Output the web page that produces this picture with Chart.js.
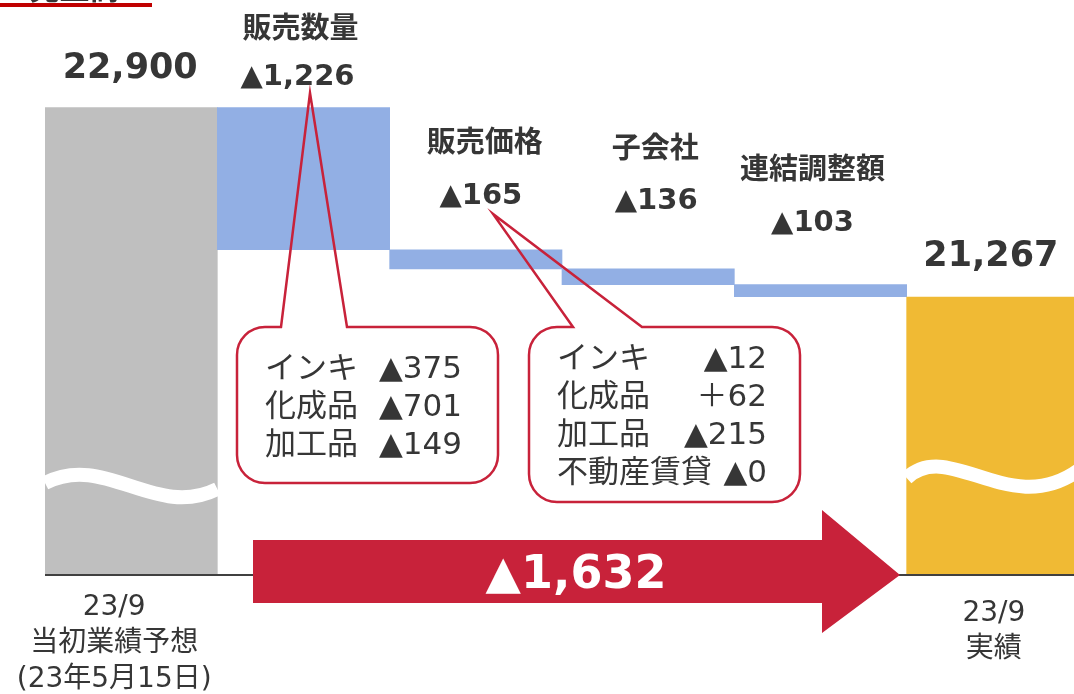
<!DOCTYPE html>
<html>
<head>
<meta charset="utf-8">
<script src="https://cdn.jsdelivr.net/npm/chart.js@4.4.1/dist/chart.umd.min.js"></script>
<style>
  html, body { margin: 0; padding: 0; background: #fff; overflow: hidden; }
  #wrap { width: 1079px; height: 694px; }
</style>
</head>
<body>
<div id="wrap"><canvas id="myChart" width="1079" height="694"></canvas></div>
<script>
// data
const categories = ['23/9 当初業績予想', '販売数量', '販売価格', '子会社', '連結調整額', '23/9 実績'];
const startValue = 22900;
const endValue = 21267;
const deltas = [-1226, -165, -136, -103];
const topLabels = ['22,900', '▲1,226', '▲165', '▲136', '▲103', '21,267'];
const stepNames = ['', '販売数量', '販売価格', '子会社', '連結調整額', ''];
const bottomLabels = [['23/9', '当初業績予想', '(23年5月15日)'], [], [], [], [], ['23/9', '実績']];
const totalChange = '▲1,632';
const volumeBreakdown = [['インキ', '▲375'], ['化成品', '▲701'], ['加工品', '▲149']];
const priceBreakdown = [['インキ', '▲12'], ['化成品', '＋62'], ['加工品', '▲215'], ['不動産賃貸', '▲0']];
const title = '③売上高';
const axisMin = 18871;
const axisMax = 23826;

// floating bars for the waterfall
const barData = [[axisMin, startValue]];
let running = startValue;
deltas.forEach(d => {
  barData.push([running + d, running]);
  running += d;
});
barData.push([axisMin, endValue]);

const colors = ['#BFBFBF', '#92AFE4', '#92AFE4', '#92AFE4', '#92AFE4', '#F0BA34'];
const RED = '#C8223A';
const TEXT = '#363636';
const FONT = '"DejaVu Sans", "Noto Sans CJK JP", sans-serif';

function callout(ctx, box, tip, baseL, baseR) {
  const r = 28;
  const { l, t, rt, b } = box;
  ctx.beginPath();
  ctx.moveTo(baseR, t);
  ctx.lineTo(rt - r, t);
  ctx.arcTo(rt, t, rt, t + r, r);
  ctx.lineTo(rt, b - r);
  ctx.arcTo(rt, b, rt - r, b, r);
  ctx.lineTo(l + r, b);
  ctx.arcTo(l, b, l, b - r, r);
  ctx.lineTo(l, t + r);
  ctx.arcTo(l, t, l + r, t, r);
  ctx.lineTo(baseL, t);
  ctx.lineTo(tip[0], tip[1]);
  ctx.closePath();
  ctx.strokeStyle = RED;
  ctx.lineWidth = 2.5;
  ctx.stroke();
}

const decor = {
  id: 'decor',
  afterDatasetsDraw(chart) {
    const ctx = chart.ctx;
    const area = chart.chartArea;
    const bars = chart.getDatasetMeta(0).data;
    const base = area.bottom;

    // wavy break marks
    ctx.save();
    ctx.strokeStyle = '#fff';
    ctx.lineWidth = 14;
    let g = bars[0], gl = g.x - g.width / 2, gw = g.width;
    ctx.beginPath();
    ctx.moveTo(gl, base - 92);
    ctx.bezierCurveTo(gl + gw * 0.35, base - 123, gl + gw * 0.64, base - 55, gl + gw, base - 86);
    ctx.stroke();
    g = bars[5]; gl = g.x - g.width / 2; gw = g.width;
    ctx.beginPath();
    ctx.moveTo(gl, base - 97);
    ctx.bezierCurveTo(gl + gw * 0.25, base - 137, gl + gw * 0.6, base - 55, gl + gw, base - 105);
    ctx.stroke();
    ctx.restore();

    // baseline
    ctx.save();
    ctx.fillStyle = '#404040';
    ctx.fillRect(area.left, base - 1, area.right - area.left, 2);
    ctx.restore();

    // title (cut off at the top)
    ctx.save();
    ctx.fillStyle = TEXT;
    ctx.font = 'bold 30px ' + FONT;
    ctx.textBaseline = 'alphabetic';
    ctx.fillText(title, 4, -1);
    ctx.fillStyle = '#C00000';
    ctx.fillRect(0, 3, 152, 4);
    ctx.restore();

    // labels above bars
    const valuePos = [[-1, 69, 35], [-6, 77, 29], [5, 196, 29], [8, 201, 29], [-8, 223, 29], [-2, 257, 35]];
    const namePos = [null, [-3, 30], [9, 144], [7, 150], [-8, 171]];
    ctx.save();
    ctx.fillStyle = TEXT;
    ctx.textAlign = 'center';
    ctx.textBaseline = 'middle';
    bars.forEach((bar, i) => {
      const vp = valuePos[i];
      ctx.font = 'bold ' + vp[2] + 'px ' + FONT;
      ctx.fillText(topLabels[i], bar.x + vp[0], vp[1]);
      if (stepNames[i]) {
        const np = namePos[i];
        ctx.font = 'bold 29px ' + FONT;
        ctx.fillText(stepNames[i], bar.x + np[0], np[1]);
      }
    });
    // bottom category labels
    ctx.font = '28px ' + FONT;
    bottomLabels[0].forEach((s, k) => ctx.fillText(s, bars[0].x - 17, 608 + k * 36));
    bottomLabels[5].forEach((s, k) => ctx.fillText(s, bars[5].x + 1, 614 + k * 36));
    ctx.restore();

    // total change arrow
    ctx.save();
    ctx.fillStyle = RED;
    ctx.beginPath();
    ctx.moveTo(253, base - 35);
    ctx.lineTo(822, base - 35);
    ctx.lineTo(822, base - 65);
    ctx.lineTo(900, base);
    ctx.lineTo(822, base + 58);
    ctx.lineTo(822, base + 28);
    ctx.lineTo(253, base + 28);
    ctx.closePath();
    ctx.fill();
    ctx.fillStyle = '#fff';
    ctx.font = 'bold 46px ' + FONT;
    ctx.textAlign = 'center';
    ctx.textBaseline = 'middle';
    ctx.fillText(totalChange, 576, base + 1);
    ctx.restore();

    // callouts
    ctx.save();
    callout(ctx, { l: 237, t: 327, rt: 498, b: 483 }, [310, 93], 281, 347);
    callout(ctx, { l: 529, t: 327, rt: 800, b: 502 }, [493, 214], 573, 642);
    ctx.fillStyle = TEXT;
    ctx.font = '31px ' + FONT;
    ctx.textBaseline = 'middle';
    volumeBreakdown.forEach((row, k) => {
      ctx.textAlign = 'left';
      ctx.fillText(row[0], 265, 370 + k * 38);
      ctx.textAlign = 'right';
      ctx.fillText(row[1], 462, 370 + k * 38);
    });
    priceBreakdown.forEach((row, k) => {
      ctx.textAlign = 'left';
      ctx.fillText(row[0], 557, 360 + k * 38);
      ctx.textAlign = 'right';
      ctx.fillText(row[1], 767, 360 + k * 38);
    });
    ctx.restore();
  }
};

new Chart(document.getElementById('myChart'), {
  type: 'bar',
  data: {
    labels: categories,
    datasets: [{
      data: barData,
      backgroundColor: colors,
      borderWidth: 0,
      barPercentage: 1,
      categoryPercentage: 1
    }]
  },
  options: {
    responsive: false,
    animation: false,
    devicePixelRatio: 1,
    layout: { padding: { left: 45, right: 0, top: 0, bottom: 119 } },
    scales: {
      x: { display: false },
      y: { display: false, min: axisMin, max: axisMax }
    },
    plugins: {
      legend: { display: false },
      tooltip: { enabled: false }
    }
  },
  plugins: [decor]
});
</script>
</body>
</html>
